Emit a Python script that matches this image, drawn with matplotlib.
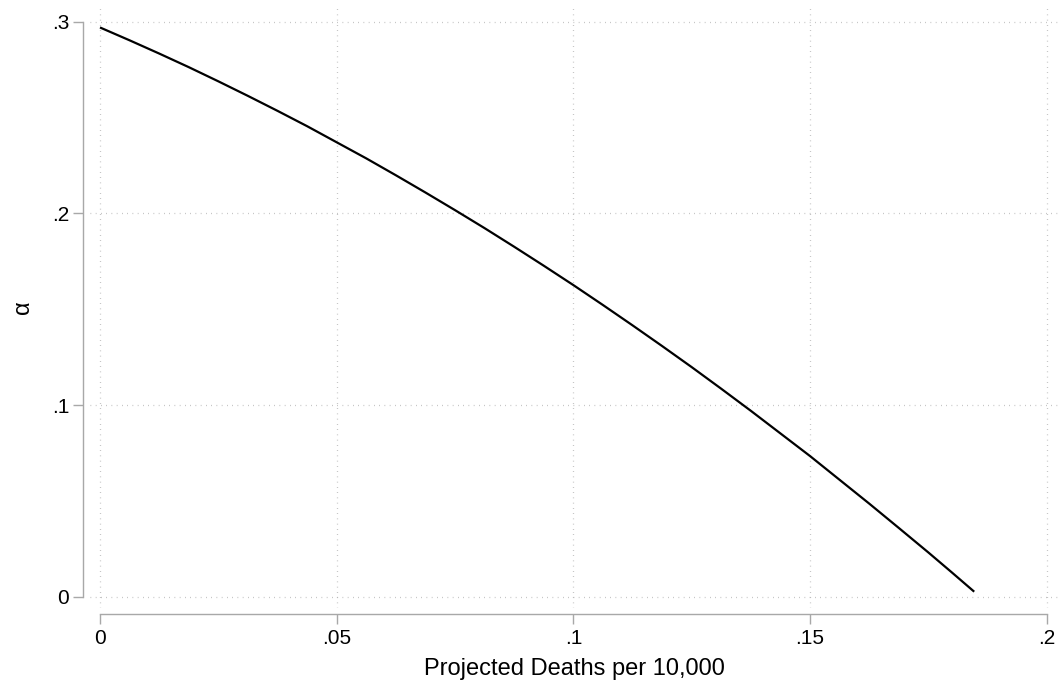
import numpy as np
import matplotlib
matplotlib.use("Agg")
import matplotlib.pyplot as plt

# values
deaths = [0.0, 0.00625, 0.0125, 0.01875, 0.025, 0.03125, 0.0375, 0.04375,
          0.05, 0.05625, 0.0625, 0.06875, 0.075, 0.08125, 0.0875, 0.09375,
          0.1, 0.10625, 0.1125, 0.11875, 0.125, 0.13125, 0.1375, 0.14375,
          0.15, 0.15625, 0.1625, 0.16875, 0.175, 0.18, 0.1847]
alpha = [0.297, 0.2903, 0.2834, 0.2763, 0.2689, 0.2613, 0.2535, 0.2455,
         0.2371, 0.2287, 0.2199, 0.2109, 0.2017, 0.1923, 0.1826, 0.1727,
         0.1626, 0.1522, 0.1416, 0.1308, 0.1198, 0.1085, 0.0970, 0.0852,
         0.0734, 0.0610, 0.0486, 0.0359, 0.0231, 0.0126, 0.0026]

x_ticks = [0, 0.05, 0.1, 0.15, 0.2]
x_tick_labels = ["0", ".05", ".1", ".15", ".2"]
y_ticks = [0, 0.1, 0.2, 0.3]
y_tick_labels = ["0", ".1", ".2", ".3"]

plt.rcParams['font.family'] = ['Liberation Sans', 'DejaVu Sans']

W, H = 1058, 691
fig = plt.figure(figsize=(W / 100, H / 100), dpi=100)
ax = fig.add_axes([90 / W, (H - 608) / H, 968 / W, 602 / H])

ax.plot(deaths, alpha, color='black', linewidth=1.6, solid_capstyle='butt')

ax.set_xlim(-0.00211, 0.2024)
ax.set_ylim(-0.0059, 0.3082)

ax.set_xticks(x_ticks)
ax.set_xticklabels(x_tick_labels)
ax.set_yticks(y_ticks)
ax.set_yticklabels(y_tick_labels)

grid_kw = dict(color='#b4b4b4', linestyle=(0, (0.6, 3.6)), linewidth=0.9)
ax.grid(True, **grid_kw)
ax.set_axisbelow(True)

for side in ['top', 'right']:
    ax.spines[side].set_visible(False)
gray = '#a8a8a8'
ax.spines['left'].set_position(('outward', 5.0))
ax.spines['bottom'].set_position(('outward', 4.3))
ax.spines['left'].set_bounds(0, 0.3)
ax.spines['bottom'].set_bounds(0, 0.2)
for side in ['left', 'bottom']:
    ax.spines[side].set_color(gray)
    ax.spines[side].set_linewidth(1.0)

ax.tick_params(axis='both', direction='out', length=7.0, width=1.0, color=gray,
               labelsize=15, labelcolor='black')
ax.tick_params(axis='y', pad=3)
ax.tick_params(axis='x', pad=4)

ax.set_xlabel('Projected Deaths per 10,000', fontsize=17, labelpad=7)
ax.set_ylabel('α', fontsize=17, labelpad=13)

fig.savefig('out.png', dpi=100, facecolor='white')
